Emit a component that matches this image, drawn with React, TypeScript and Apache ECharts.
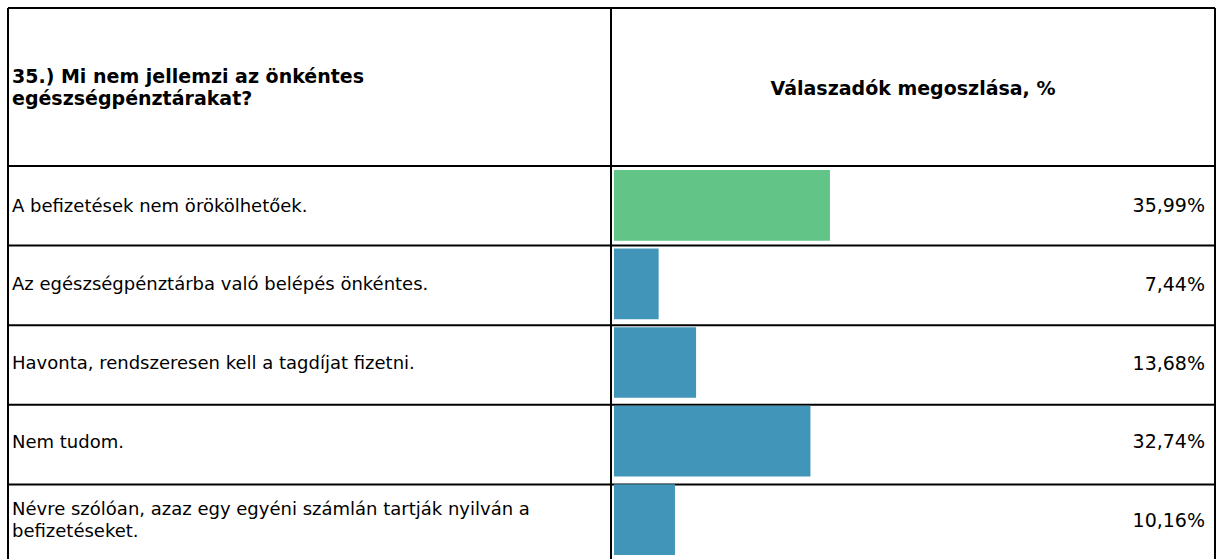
import React, { useEffect, useRef } from "react";
import * as echarts from "echarts";

// ---- data ----
const headerQuestion = "35.) Mi nem jellemzi az önkéntes\negészségpénztárakat?";
const headerValue = "Válaszadók megoszlása, %";
const categories = [
  "A befizetések nem örökölhetőek.",
  "Az egészségpénztárba való belépés önkéntes.",
  "Havonta, rendszeresen kell a tagdíjat fizetni.",
  "Nem tudom.",
  "Névre szólóan, azaz egy egyéni számlán tartják nyilván a\nbefizetéseket.",
];
const values = [35.99, 7.44, 13.68, 32.74, 10.16];
const barColors = ["#63C487", "#4095B8", "#4095B8", "#4095B8", "#4095B8"];
const valueLabels = values.map((v) => v.toFixed(2).replace(".", ",") + "%");

// ---- layout ----
const W = 1220;
const H = 559;
const tableLeft = 8;
const tableTop = 8;
const tableRight = 1215;
const colX = 611;
const headerBottom = 166;
const rowH = 79.6;
const barLeft = 614;
const FONT = "DejaVu Sans";
const FS = 18;
const FS_BOLD = 19;
const FS_VAL = 19;

export default function App() {
  const ref = useRef<HTMLDivElement>(null);
  useEffect(() => {
    if (!ref.current) return;
    const chart = echarts.init(ref.current, undefined, { renderer: "svg" });
    const tableBottom = headerBottom + rowH * categories.length;
    const lines: any[] = [];
    const ls = { stroke: "#000", lineWidth: 2 };
    lines.push({ type: "line", shape: { x1: tableLeft, y1: tableTop, x2: tableRight, y2: tableTop }, style: ls });
    lines.push({ type: "line", shape: { x1: tableLeft, y1: tableTop, x2: tableLeft, y2: tableBottom }, style: ls });
    lines.push({ type: "line", shape: { x1: tableRight, y1: tableTop, x2: tableRight, y2: tableBottom }, style: ls });
    lines.push({ type: "line", shape: { x1: colX, y1: tableTop, x2: colX, y2: tableBottom }, style: ls });
    for (let i = 0; i <= categories.length; i++) {
      const y = headerBottom + rowH * i;
      lines.push({ type: "line", shape: { x1: tableLeft, y1: y, x2: tableRight, y2: y }, style: ls });
    }
    chart.setOption({
      animation: false,
      backgroundColor: "#fff",
      grid: {
        left: barLeft,
        right: W - 1214,
        top: headerBottom,
        height: rowH * categories.length,
        containLabel: false,
      },
      xAxis: {
        type: "value",
        min: 0,
        max: 100,
        show: false,
      },
      yAxis: [
        {
          type: "category",
          inverse: true,
          data: categories,
          axisLine: { show: false },
          axisTick: { show: false },
          splitLine: { show: false },
          axisLabel: {
            align: "left",
            margin: barLeft - 12,
            fontSize: FS,
            lineHeight: 22,
            color: "#000",
            fontFamily: FONT,
          },
        },
        {
          type: "category",
          inverse: true,
          position: "right",
          data: valueLabels,
          axisLine: { show: false },
          axisTick: { show: false },
          splitLine: { show: false },
          axisLabel: {
            inside: true,
            align: "right",
            margin: 9,
            fontSize: FS_VAL,
            color: "#000",
            fontFamily: FONT,
          },
        },
      ],
      series: [
        {
          type: "bar",
          yAxisIndex: 0,
          barCategoryGap: "10%",
          data: values.map((v, i) => ({ value: v, itemStyle: { color: barColors[i] } })),
        },
      ],
      graphic: [
        ...lines,
        {
          type: "text",
          x: 12,
          y: (tableTop + headerBottom) / 2,
          style: {
            text: headerQuestion,
            font: `bold ${FS_BOLD}px "${FONT}"`,
            lineHeight: 22,
            fill: "#000",
            align: "left",
            verticalAlign: "middle",
          },
        },
        {
          type: "text",
          x: (colX + tableRight) / 2,
          y: (tableTop + headerBottom) / 2 + 1,
          style: {
            text: headerValue,
            font: `bold ${FS_BOLD}px "${FONT}"`,
            fill: "#000",
            align: "center",
            verticalAlign: "middle",
          },
        },
      ],
    });
    return () => chart.dispose();
  }, []);
  return (
    <div
      ref={ref}
      style={{ position: "fixed", left: 0, top: 0, width: W, height: H, background: "#fff" }}
    />
  );
}
